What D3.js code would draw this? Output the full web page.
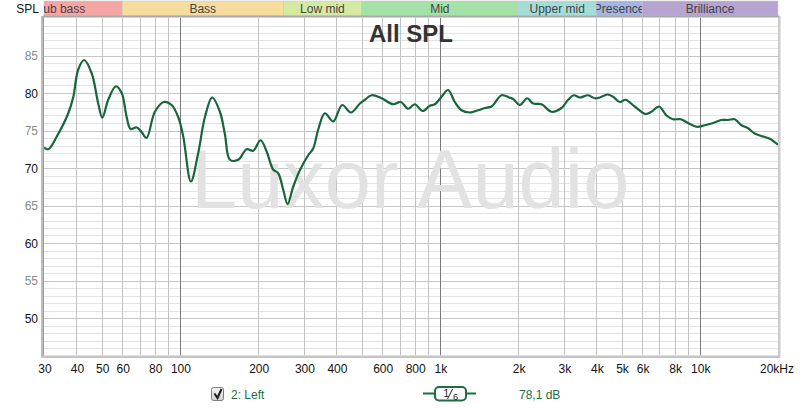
<!DOCTYPE html>
<html>
<head>
<meta charset="utf-8">
<script src="https://cdn.jsdelivr.net/npm/d3@7/dist/d3.min.js"></script>
<style>
  body { margin: 0; background: #fff; }
  svg { display: block; font-family: Arial, "Liberation Sans", sans-serif; }
</style>
</head>
<body>
<svg id="chart"></svg>
<script>
const freqs = [30, 31.2, 33.6, 37.2, 38.9, 40.6, 42.8, 45.8, 48.5, 50.3, 53, 56.7, 59.7, 62.4, 64.6,
  68.2, 71.2, 74.4, 80.1, 86.8, 92.9, 98.5, 103, 110.2, 117.6, 124.8, 133.1, 142.5, 149, 155.7,
  167.6, 180.5, 191.4, 204.4, 215.6, 228.5, 238.9, 249.7, 259.6, 272.8, 289.4, 311.6, 325.7,
  340.3, 361.1, 388.7, 421, 454.7, 492.5, 514.5, 546.2, 596.8, 661.4, 707.9, 755.2, 801.5,
  858.3, 915.4, 956.7, 1015, 1076, 1142, 1212, 1304, 1404, 1490, 1581, 1727, 1847, 1914, 2031,
  2167, 2285, 2462, 2690, 2939, 3116, 3277, 3455, 3719, 3947, 4125, 4416, 4640, 4924, 5178,
  5623, 6183, 6520, 6975, 7445, 7896, 8452, 9016, 9712, 10450, 11250, 12120, 12850, 13630,
  14470, 15340, 16270, 17520, 18590, 20000];
const spl = [72.7, 72.5, 74.2, 77.3, 79.5, 83.1, 84.4, 82.6, 78.6, 76.7, 79.1, 80.9, 80.0, 76.8, 75.2,
  75.4, 74.8, 74.0, 77.5, 78.8, 78.4, 76.8, 74.2, 68.2, 72.0, 76.8, 79.4, 77.5, 74.5, 71.1,
  71.1, 72.5, 72.3, 73.7, 72.2, 69.8, 69.3, 67.1, 65.2, 67.5, 69.7, 71.7, 72.6,
  75.1, 77.3, 76.2, 78.4, 77.4, 78.6, 79.1, 79.7, 79.3, 78.5, 78.8, 77.9, 78.5,
  77.6, 78.3, 78.5, 79.5, 80.4, 78.8, 77.7, 77.4, 77.7, 78.0, 78.2, 79.7, 79.4, 79.2, 78.4,
  79.3, 78.6, 78.5, 77.5, 78.0, 79.1, 79.7, 79.4, 79.7, 79.3, 79.4, 79.8, 79.5, 78.8, 79.1,
  78.2, 77.2, 77.5, 78.2, 77.0, 76.5, 76.5, 76.0, 75.5, 75.7, 76.0, 76.4, 76.4, 76.5,
  75.7, 75.3, 74.6, 74.2, 73.9, 73.1];

// frequency bands along the top
const bandNames = ['Sub bass', 'Bass', 'Low mid', 'Mid', 'Upper mid', 'Presence', 'Brilliance'];
const bandEdges = [20, 60, 250, 500, 2000, 4000, 6000, 20000];
const bandColors = ['#f6a5a5', '#f6dc9d', '#d5eaa1', '#a4e2a7', '#a4ddd7', '#a3b5e3', '#b6a3d0'];

// axis labels
const xTickValues = [30, 40, 50, 60, 80, 100, 200, 300, 400, 600, 800, 1000, 2000, 3000, 4000, 5000, 6000, 8000, 10000, 20000];
const xTickLabels = ['30', '40', '50', '60', '80', '100', '200', '300', '400', '600', '800', '1k', '2k', '3k', '4k', '5k', '6k', '8k', '10k', '20kHz'];
const yTickValues = [50, 55, 60, 65, 70, 75, 80, 85];

class SplChart {
  constructor(_config, _data) {
    this.config = {
      parentElement: _config.parentElement,
      containerWidth: 800,
      containerHeight: 409,
      margin: { top: 18, right: 22, bottom: 53.5, left: 44 },
      lineColor: '#17663b',
    };
    this.data = _data;
    this.initVis();
  }

  initVis() {
    const vis = this;
    const cfg = vis.config;
    vis.width = cfg.containerWidth - cfg.margin.left - cfg.margin.right;
    vis.height = cfg.containerHeight - cfg.margin.top - cfg.margin.bottom;

    vis.xScale = d3.scaleLog().domain([30, 20000]).range([0, vis.width]);
    vis.yScale = d3.scaleLinear().domain([45, 90]).range([vis.height, 0]);

    vis.svg = d3.select(cfg.parentElement)
      .attr('width', cfg.containerWidth)
      .attr('height', cfg.containerHeight);

    vis.svg.append('defs').append('clipPath')
      .attr('id', 'plot-clip')
      .append('rect')
      .attr('width', vis.width)
      .attr('height', vis.height);

    vis.chart = vis.svg.append('g')
      .attr('transform', `translate(${cfg.margin.left},${cfg.margin.top})`);

    vis.renderGrid();
    vis.renderFrame();
    vis.renderBands();
    vis.renderAxes();
    vis.renderVis();
    vis.renderLegend();
  }

  renderGrid() {
    const vis = this;
    const grid = vis.chart.append('g').attr('class', 'grid');

    // 1 dB minor lines, 5 dB lines a bit darker
    grid.selectAll('.h-line')
      .data(d3.range(46, 90))
      .join('line')
      .attr('class', 'h-line')
      .attr('x1', 0)
      .attr('x2', vis.width)
      .attr('y1', (d) => Math.round(vis.yScale(d)) + 0.5)
      .attr('y2', (d) => Math.round(vis.yScale(d)) + 0.5)
      .attr('stroke', (d) => (d % 5 === 0 ? '#c6c6c6' : '#e3e3e3'));

    const decades = [100, 1000, 10000];
    grid.selectAll('.v-line')
      .data(vis.xScale.ticks().filter((d) => d > 30 && d < 20000))
      .join('line')
      .attr('class', 'v-line')
      .attr('x1', (d) => Math.round(vis.xScale(d)) + 0.5)
      .attr('x2', (d) => Math.round(vis.xScale(d)) + 0.5)
      .attr('y1', 0)
      .attr('y2', vis.height)
      .attr('stroke', (d) => (decades.includes(d) ? '#7a7a7a' : '#c2c2c2'));

    // watermark
    vis.chart.append('text')
      .attr('x', 147)
      .attr('y', 190)
      .attr('font-size', 83)
      .attr('fill', '#e2e2e2')
      .text('Luxor Audio');

    vis.chart.append('text')
      .attr('x', 367)
      .attr('y', 24)
      .attr('text-anchor', 'middle')
      .attr('font-size', 24)
      .attr('font-weight', 'bold')
      .attr('fill', '#333')
      .text('All SPL');
  }

  renderFrame() {
    const vis = this;
    const frame = vis.chart.append('g');
    frame.append('rect').attr('x', -3).attr('y', -2).attr('width', 3).attr('height', vis.height + 4).attr('fill', '#bdbdbd');
    frame.append('rect').attr('x', -1).attr('y', -2).attr('width', 1).attr('height', vis.height + 2).attr('fill', '#9a9a9a');
    frame.append('rect').attr('x', -3).attr('y', vis.height).attr('width', vis.width + 5).attr('height', 2.5).attr('fill', '#c4c4c4');
    frame.append('rect').attr('x', vis.width).attr('y', -2).attr('width', 2.5).attr('height', vis.height + 4).attr('fill', '#cbcbcb');
  }

  renderBands() {
    const vis = this;
    const bands = bandNames.map((name, i) => ({
      name,
      x0: Math.max(vis.xScale(bandEdges[i]), 0),
      x1: Math.min(vis.xScale(bandEdges[i + 1]), vis.width),
      mid: (vis.xScale(bandEdges[i]) + vis.xScale(bandEdges[i + 1])) / 2,
      color: bandColors[i],
    }));

    const defs = vis.svg.select('defs');
    defs.selectAll('.band-clip')
      .data(bands)
      .join('clipPath')
      .attr('class', 'band-clip')
      .attr('id', (d, i) => `band-clip-${i}`)
      .append('rect')
      .attr('x', (d) => d.x0)
      .attr('y', -18)
      .attr('width', (d) => d.x1 - d.x0)
      .attr('height', 16);

    const g = vis.chart.append('g');
    g.selectAll('rect')
      .data(bands)
      .join('rect')
      .attr('x', (d) => d.x0)
      .attr('y', -17)
      .attr('width', (d) => d.x1 - d.x0)
      .attr('height', 15)
      .attr('fill', (d) => d.color)
      .attr('stroke', '#c9c9c9')
      .attr('stroke-width', 0.6);

    g.selectAll('text')
      .data(bands)
      .join('text')
      .attr('clip-path', (d, i) => `url(#band-clip-${i})`)
      .attr('x', (d) => d.mid)
      .attr('y', -5.5)
      .attr('text-anchor', 'middle')
      .attr('font-size', 12)
      .attr('fill', '#444')
      .text((d) => d.name);

    g.append('rect')
      .attr('x', -1)
      .attr('y', -2.5)
      .attr('width', vis.width + 2)
      .attr('height', 2)
      .attr('fill', '#a9a9a9');

    vis.svg.append('text')
      .attr('x', 39)
      .attr('y', 13)
      .attr('text-anchor', 'end')
      .attr('font-size', 12)
      .attr('fill', '#111')
      .text('SPL');
  }

  renderAxes() {
    const vis = this;
    vis.chart.append('g')
      .selectAll('text')
      .data(yTickValues)
      .join('text')
      .attr('x', -6)
      .attr('y', (d) => vis.yScale(d) + 4.5)
      .attr('text-anchor', 'end')
      .attr('font-size', 12)
      .attr('fill', (d) => (d % 10 === 0 ? '#111' : '#8a8a8a'))
      .text((d) => d);

    vis.chart.append('g')
      .selectAll('text')
      .data(xTickValues)
      .join('text')
      .attr('x', (d, i) => (i === xTickValues.length - 1 ? vis.xScale(d) + 16 : vis.xScale(d) + 1))
      .attr('y', vis.height + 17.5)
      .attr('text-anchor', (d, i) => (i === xTickValues.length - 1 ? 'end' : 'middle'))
      .attr('font-size', 12)
      .attr('fill', '#111')
      .text((d, i) => xTickLabels[i]);
  }

  renderVis() {
    const vis = this;
    const line = d3.line()
      .x((d) => vis.xScale(d.f))
      .y((d) => vis.yScale(d.db))
      .curve(d3.curveCatmullRom.alpha(0.5));

    vis.chart.append('path')
      .datum(vis.data)
      .attr('clip-path', 'url(#plot-clip)')
      .attr('d', line)
      .attr('fill', 'none')
      .attr('stroke', vis.config.lineColor)
      .attr('stroke-width', 2.2)
      .attr('stroke-linejoin', 'round');
  }

  renderLegend() {
    const vis = this;
    const lg = vis.svg.append('g');
    const green = '#1f6d42';

    // checkbox
    const grad = vis.svg.select('defs').append('linearGradient')
      .attr('id', 'cb-grad').attr('x1', 0).attr('y1', 0).attr('x2', 0).attr('y2', 1);
    grad.append('stop').attr('offset', '0%').attr('stop-color', '#f4f4f4');
    grad.append('stop').attr('offset', '100%').attr('stop-color', '#cfcfcf');
    lg.append('rect')
      .attr('x', 211.5).attr('y', 387.5).attr('width', 12).attr('height', 13).attr('rx', 2)
      .attr('fill', 'url(#cb-grad)').attr('stroke', '#7d7d7d');
    lg.append('path')
      .attr('d', 'M214.5,393.5 L217.5,398 L221.5,389')
      .attr('fill', 'none').attr('stroke', '#1a1a1a').attr('stroke-width', 2);
    lg.append('text')
      .attr('x', 231).attr('y', 399).attr('font-size', 12).attr('fill', green)
      .text('2: Left');

    // smoothing symbol (1/6 octave)
    lg.append('line')
      .attr('x1', 423).attr('x2', 476).attr('y1', 393.5).attr('y2', 393.5)
      .attr('stroke', green).attr('stroke-width', 2);
    lg.append('rect')
      .attr('x', 435).attr('y', 387).attr('width', 31).attr('height', 13.5).attr('rx', 4)
      .attr('fill', '#fff').attr('stroke', green).attr('stroke-width', 2);
    lg.append('text').attr('x', 443.5).attr('y', 396.5).attr('font-size', 10).attr('fill', '#222').text('1');
    lg.append('line')
      .attr('x1', 447.5).attr('y1', 399).attr('x2', 452.5).attr('y2', 389)
      .attr('stroke', '#222').attr('stroke-width', 1);
    lg.append('text').attr('x', 453).attr('y', 399.5).attr('font-size', 9).attr('fill', '#222').text('6');

    lg.append('text')
      .attr('x', 519).attr('y', 399).attr('font-size', 12).attr('fill', green)
      .text('78,1 dB');
  }
}

const data = freqs.map((f, i) => ({ f, db: spl[i] }));
const splChart = new SplChart({ parentElement: '#chart' }, data);
</script>
</body>
</html>
